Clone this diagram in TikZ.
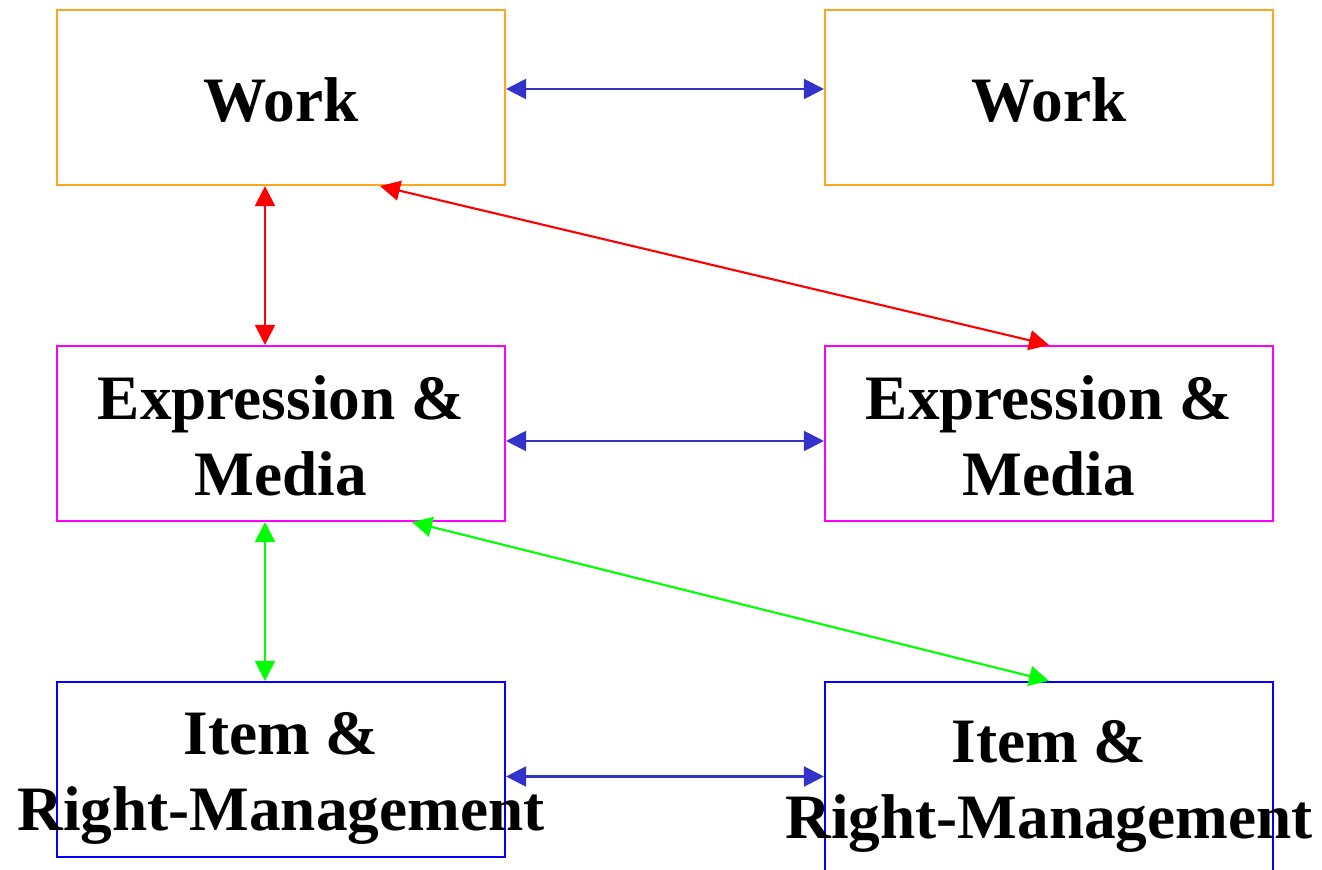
\documentclass[tikz,border=0pt]{standalone}
\usepackage{fontspec}
\setmainfont{Liberation Serif}
\usetikzlibrary{arrows.meta}
\definecolor{workorange}{RGB}{255,165,32}
\definecolor{exprmagenta}{RGB}{255,0,255}
\definecolor{itemblue}{RGB}{0,0,255}
\definecolor{linkblue}{RGB}{51,51,204}
\begin{document}
\begin{tikzpicture}[
    box/.style={draw,line width=0.6pt,minimum width=4.48cm,minimum height=1.75cm,inner sep=0pt},
    lbl/.style={align=center,font=\fontsize{18}{21.6}\selectfont\bfseries},
    link/.style={line width=0.6pt,{Triangle[length=0.2cm,width=0.2cm]}-{Triangle[length=0.2cm,width=0.2cm]}}]
  \clip (0,0) rectangle (13.22,-8.70);

  \node[box,draw=workorange] (w1) at (2.81,-0.975) {};
  \node[box,draw=workorange] (w2) at (10.49,-0.975) {};
  \node[box,draw=exprmagenta] (e1) at (2.81,-4.335) {};
  \node[box,draw=exprmagenta] (e2) at (10.49,-4.335) {};
  \node[box,draw=itemblue] (i1) at (2.81,-7.695) {};
  \node[box,draw=itemblue,minimum height=1.89cm] (i2) at (10.49,-7.765) {};

  \node[lbl,yshift=-0.03cm] at (w1) {Work};
  \node[lbl,yshift=-0.03cm] at (w2) {Work};
  \node[lbl,yshift=-0.02cm] at (e1) {Expression \&\\Media};
  \node[lbl,yshift=-0.02cm] at (e2) {Expression \&\\Media};
  \node[lbl,yshift=-0.085cm] at (i1) {Item \&\\Right-Management};
  \node[lbl,yshift=-0.095cm] at (i2) {Item \&\\Right-Management};

  \draw[link,linkblue] ([yshift=0.085cm]w1.east) -- ([yshift=0.085cm]w2.west);
  \draw[link,linkblue] ([yshift=-0.075cm]e1.east) -- ([yshift=-0.075cm]e2.west);
  \draw[link,linkblue] (i1.east |- i2.west) -- (i2.west);

  \draw[link,red] ([xshift=-0.16cm]w1.south) -- ([xshift=-0.16cm]e1.north);
  \draw[link,red] ([xshift=0.99cm]w1.south) -- (e2.north);
  \draw[link,green] ([xshift=-0.16cm]e1.south) -- ([xshift=-0.16cm]i1.north);
  \draw[link,green] ([xshift=1.31cm]e1.south) -- (i2.north);
\end{tikzpicture}
\end{document}
